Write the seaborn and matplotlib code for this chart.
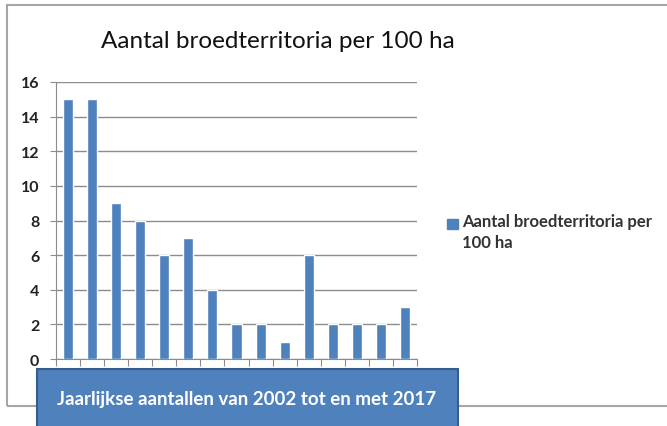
import matplotlib.pyplot as plt
import seaborn as sns
import pandas as pd
from matplotlib.patches import Rectangle

# gegevens
jaren = [str(i) for i in range(1, 16)]
territoria = [15, 15, 9, 8, 6, 7, 4, 2, 2, 1, 6, 2, 2, 2, 3]
reeks = "Aantal broedterritoria per\n100 ha"
titel = "Aantal broedterritoria per 100 ha"
onderschrift = "Jaarlijkse aantallen van 2002 tot en met 2017"

df = pd.DataFrame({"jaar": jaren, "aantal": territoria})

sns.set_style("white")
plt.rcParams["font.family"] = ["Lato", "DejaVu Sans"]

W, H = 667, 427
fig = plt.figure(figsize=(W / 100, H / 100), dpi=100)

# kader van de grafiek
fig.patches.append(Rectangle((7 / W, 1 - 407 / H), 1.2, (407 - 6) / H,
                             transform=fig.transFigure, fill=False,
                             edgecolor="#A6A6A6", lw=1.5, zorder=0))

ax = fig.add_axes([56 / W, 1 - 360 / H, (417 - 56) / W, (360 - 83) / H])
sns.barplot(data=df, x="jaar", y="aantal", color="#4F81BD", width=0.42,
            saturation=1, ax=ax, zorder=3)

ax.set_ylim(0, 16)
ax.set_xlim(-0.5, len(jaren) - 0.5)
ax.set_yticks(range(0, 17, 2))
ax.yaxis.grid(True, color="#8C8C8C", lw=1)
ax.set_axisbelow(True)
ax.set_xlabel("")
ax.set_ylabel("")
ax.set_xticks([i - 0.5 for i in range(len(jaren) + 1)])
ax.set_xticklabels([])
ax.tick_params(axis="x", length=5, color="#8C8C8C", direction="out", bottom=True)
ax.tick_params(axis="y", length=4, color="#8C8C8C", left=True, labelsize=11.5,
               labelcolor="#222222", pad=8)
for lab in ax.get_yticklabels():
    lab.set_fontweight("bold")
for s in ["top", "right"]:
    ax.spines[s].set_visible(False)
ax.spines["left"].set_color("#8C8C8C")
ax.spines["bottom"].set_color("#8C8C8C")

fig.text(278 / W, 1 - 42 / H, titel, ha="center", va="center", fontsize=17.5,
         color="#111111")

# legenda
fig.patches.append(Rectangle((447 / W, 1 - 230 / H), 11 / W, 10 / H,
                             transform=fig.transFigure, color="#4F81BD"))
fig.text(462 / W, 1 - 214 / H, reeks, ha="left", va="top", fontsize=12,
         fontweight="bold", color="#333333", linespacing=1.35,
         transform=fig.transFigure)

# blauw vak onderaan
fig.patches.append(Rectangle((37 / W, -0.05), (458 - 37) / W, (427 - 370) / H + 0.05,
                             transform=fig.transFigure, facecolor="#4F81BD",
                             edgecolor="#385D8A", lw=1.5, zorder=5))
fig.text(247 / W, 1 - 400 / H, onderschrift, ha="center", va="center",
         fontsize=13.5, fontweight="bold", color="white", zorder=6)

fig.savefig("out.png", dpi=100)
